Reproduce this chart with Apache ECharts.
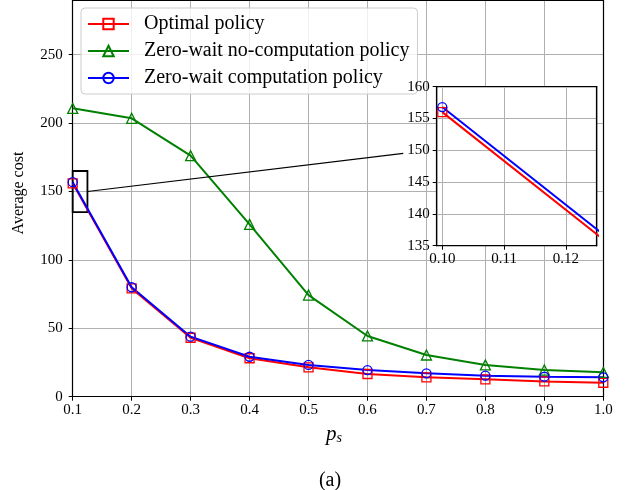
<!DOCTYPE html>
<html>
<head>
<meta charset="utf-8">
<script src="https://cdn.jsdelivr.net/npm/echarts@6/dist/echarts.min.js"></script>
<style>
  html, body { margin: 0; padding: 0; background: #fff; }
  #chart { width: 632px; height: 490px; }
</style>
</head>
<body>
<div id="chart"></div>
<script>
// Success probability p_s on the horizontal axis
const ps = [0.1, 0.2, 0.3, 0.4, 0.5, 0.6, 0.7, 0.8, 0.9, 1.0];

// Average cost of each policy
const optimalCost = [156.0, 79.2, 43.1, 28.1, 21.5, 16.6, 14.2, 12.7, 11.2, 10.2];
const zeroWaitNoCompCost = [210.8, 203.5, 176.2, 126.0, 74.3, 44.4, 30.5, 23.2, 19.5, 17.8];
const zeroWaitCompCost = [156.8, 80.0, 43.9, 29.2, 23.2, 19.5, 17.1, 15.4, 14.6, 14.2];

const seriesNames = ['Optimal policy', 'Zero-wait no-computation policy', 'Zero-wait computation policy'];

// Zoomed window around p_s = 0.1
const zoomX = [0.0991, 0.125];
const zoomY = [135, 160];
// Box marking the zoomed window, and the arrow pointing to the inset
const zoomBox = [[0.1, 135], [0.125, 165]];
const zoomArrow = [[0.125, 150], [0.6607, 177.9]];

const SERIF = '"Liberation Serif", "Times New Roman", serif';
const GRID_GRAY = '#b0b0b0';
const RED = '#ff0000', GREEN = '#008000', BLUE = '#0000ff';

const pairs = (xs, ys) => xs.map((x, i) => [x, ys[i]]);

const chart = echarts.init(document.getElementById('chart'), null, { renderer: 'canvas' });

function frameAxis(gridIndex, position, min, max, z) {
  return {
    type: 'value', gridIndex, position, min, max, z,
    axisLine: { show: true, onZero: false, lineStyle: { color: '#000', width: 1.2 } },
    axisTick: { show: false }, axisLabel: { show: false }, splitLine: { show: false }
  };
}

// Hollow marker + solid line in one colour
function curve(name, values, symbol, size, color, xi, z) {
  return {
    name, type: 'line', xAxisIndex: xi, yAxisIndex: xi, z, clip: true,
    data: pairs(ps, values),
    symbol, symbolSize: size, color,
    lineStyle: { color, width: 2 },
    itemStyle: { color: 'rgba(255,255,255,0)', borderColor: color, borderWidth: 1.3 }
  };
}

const tickLabel = { fontFamily: SERIF, fontSize: 15, color: '#000' };

const option = {
  animation: false,
  backgroundColor: '#fff',
  grid: [
    { left: 72.7, right: 28.7, top: 0, bottom: 93.3, show: false },
    { left: 436.7, top: 86.7, width: 160, height: 159, show: true, z: 4,
      backgroundColor: '#fff', borderColor: '#000', borderWidth: 1.2 }
  ],
  xAxis: [
    {
      type: 'value', gridIndex: 0, min: 0.1, max: 1.0, interval: 0.1,
      axisLine: { onZero: false, lineStyle: { color: '#000', width: 1.2 } },
      axisTick: { show: true, inside: false, length: 4, lineStyle: { color: '#000', width: 1 } },
      axisLabel: Object.assign({ margin: 6, formatter: v => v.toFixed(1) }, tickLabel),
      splitLine: { show: true, lineStyle: { color: GRID_GRAY, width: 1 } }
    },
    {
      type: 'value', gridIndex: 1, min: zoomX[0], max: zoomX[1], splitNumber: 2, z: 5,
      axisLine: { onZero: false, lineStyle: { color: '#000', width: 1.2 } },
      axisTick: { show: true, inside: false, length: 4, lineStyle: { color: '#000', width: 1 } },
      axisLabel: Object.assign({ margin: 6, showMinLabel: false, showMaxLabel: false,
        formatter: v => v.toFixed(2) }, tickLabel),
      splitLine: { show: true, lineStyle: { color: GRID_GRAY, width: 1 } }
    },
    frameAxis(0, 'top', 0.1, 1.0, 1),
    frameAxis(1, 'top', zoomX[0], zoomX[1], 6)
  ],
  yAxis: [
    {
      type: 'value', gridIndex: 0, min: 0, max: 290, interval: 50,
      axisLine: { show: true, onZero: false, lineStyle: { color: '#000', width: 1.2 } },
      axisTick: { show: true, inside: false, length: 4, lineStyle: { color: '#000', width: 1 } },
      axisLabel: Object.assign({ margin: 10, showMaxLabel: false }, tickLabel),
      splitLine: { show: true, lineStyle: { color: GRID_GRAY, width: 1 } }
    },
    {
      type: 'value', gridIndex: 1, min: zoomY[0], max: zoomY[1], interval: 5, z: 5,
      axisLine: { show: true, onZero: false, lineStyle: { color: '#000', width: 1.2 } },
      axisTick: { show: true, inside: false, length: 4, lineStyle: { color: '#000', width: 1 } },
      axisLabel: Object.assign({ margin: 7 }, tickLabel),
      splitLine: { show: true, lineStyle: { color: GRID_GRAY, width: 1 } }
    },
    frameAxis(0, 'right', 0, 290, 1),
    frameAxis(1, 'right', zoomY[0], zoomY[1], 6)
  ],
  legend: {
    data: seriesNames,
    orient: 'vertical',
    left: 81, top: 8,
    itemWidth: 41, itemHeight: 13, itemGap: 7,
    padding: [6, 8, 6, 6],
    backgroundColor: 'rgba(255,255,255,0.8)',
    borderColor: '#cccccc', borderWidth: 1, borderRadius: 4,
    selectedMode: false,
    textStyle: { fontFamily: SERIF, fontSize: 20, color: '#000', padding: [0, 0, 0, 10] }
  },
  graphic: [
    { type: 'text', x: 18.5, y: 193, rotation: Math.PI / 2,
      style: { text: 'Average cost', font: '16px ' + SERIF, fill: '#000', align: 'center', verticalAlign: 'middle' } },
    { type: 'text', x: 334, y: 434,
      style: { text: '{p|p}{s|s}', fill: '#000', align: 'center', verticalAlign: 'middle',
        rich: { p: { fontFamily: SERIF, fontStyle: 'italic', fontSize: 21, verticalAlign: 'middle' },
                s: { fontFamily: SERIF, fontStyle: 'italic', fontSize: 14, padding: [8, 0, 0, 0] } } } },
    { type: 'text', x: 330, y: 481,
      style: { text: '(a)', font: '20px ' + SERIF, fill: '#000', align: 'center', verticalAlign: 'middle' } }
  ],
  series: [
    curve(seriesNames[0], optimalCost, 'rect', 9, RED, 0, 3),
    curve(seriesNames[1], zeroWaitNoCompCost, 'triangle', 10, GREEN, 0, 3),
    curve(seriesNames[2], zeroWaitCompCost, 'circle', 9, BLUE, 0, 3),
    // Inset: the same two curves near p_s = 0.1
    curve(seriesNames[0], optimalCost, 'rect', 9, RED, 1, 7),
    curve(seriesNames[2], zeroWaitCompCost, 'circle', 9, BLUE, 1, 7),
    {
      name: 'zoom-indicator', type: 'line', xAxisIndex: 0, yAxisIndex: 0, z: 2,
      data: [], silent: true,
      markArea: {
        silent: true,
        itemStyle: { color: 'rgba(0,0,0,0)', borderColor: '#000', borderWidth: 1.8 },
        label: { show: false },
        data: [[{ coord: zoomBox[0] }, { coord: zoomBox[1] }]]
      },
      markLine: {
        silent: true, symbol: ['none', 'arrow'], symbolSize: [0, 9],
        lineStyle: { color: '#000', width: 1.2, type: 'solid' },
        label: { show: false },
        data: [[{ coord: zoomArrow[0] }, { coord: zoomArrow[1] }]]
      }
    }
  ]
};

chart.setOption(option);
</script>
</body>
</html>
